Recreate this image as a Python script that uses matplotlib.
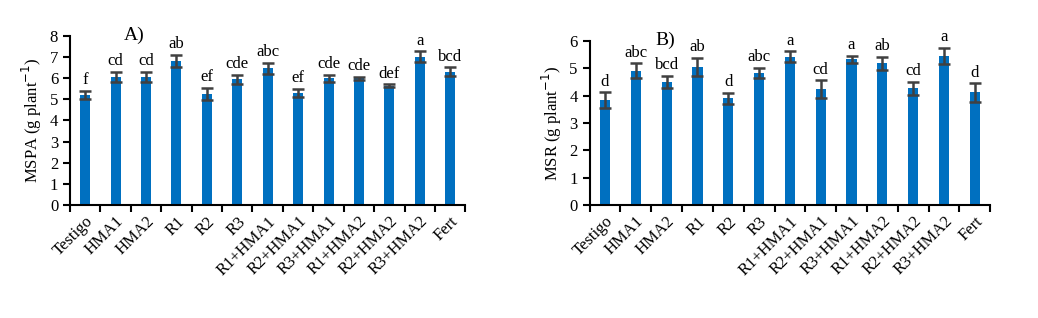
import matplotlib
matplotlib.use("Agg")
import matplotlib.pyplot as plt
import numpy as np

plt.rcParams['font.family'] = ['Liberation Serif', 'DejaVu Serif']

categories = ["Testigo", "HMA1", "HMA2", "R1", "R2", "R3", "R1+HMA1", "R2+HMA1",
              "R3+HMA1", "R1+HMA2", "R2+HMA2", "R3+HMA2", "Fert"]

mspa = [5.2, 6.05, 6.05, 6.8, 5.24, 5.93, 6.45, 5.3, 5.98, 5.98, 5.63, 7.0, 6.3]
mspa_err = [0.2, 0.25, 0.25, 0.3, 0.3, 0.22, 0.27, 0.2, 0.17, 0.07, 0.07, 0.26, 0.2]
mspa_letters = ["f", "cd", "cd", "ab", "ef", "cde", "abc", "ef", "cde", "cde", "def", "a", "bcd"]

msr = [3.83, 4.9, 4.5, 5.05, 3.9, 4.83, 5.41, 4.23, 5.32, 5.17, 4.26, 5.45, 4.11]
msr_err = [0.28, 0.27, 0.22, 0.33, 0.2, 0.18, 0.2, 0.33, 0.13, 0.25, 0.24, 0.29, 0.33]
msr_letters = ["d", "abc", "bcd", "ab", "d", "abc", "a", "cd", "a", "ab", "cd", "a", "d"]

BLUE = "#0070C0"


def draw_panel(ax, vals, errs, letters, ylabel, ymax, tag, tag_x):
    x = np.arange(len(categories))
    ax.bar(x, vals, width=0.33, color=BLUE, zorder=2)
    ax.errorbar(x, vals, yerr=errs, fmt='none', ecolor='#404040',
                elinewidth=1.8, capsize=4, capthick=1.8, zorder=3)
    for xi, v, e, t in zip(x, vals, errs, letters):
        ax.text(xi, v + e + 0.12 * ymax / 8, t, ha='center', va='bottom', fontsize=12)
    ax.set_xlim(-0.5, len(categories) - 0.5)
    ax.set_ylim(0, ymax)
    ax.set_yticks(range(0, ymax + 1))
    ax.set_xticks(x)
    ax.set_xticklabels(categories, rotation=45, ha='right', rotation_mode='anchor', fontsize=12)
    ax.set_xticks(np.arange(-0.5, len(categories)), minor=True)
    ax.tick_params(axis='x', which='major', length=0, pad=6)
    ax.tick_params(axis='x', which='minor', length=5, width=1.5, direction='out')
    ax.tick_params(axis='y', length=5, width=1.5, direction='out', labelsize=12)
    for s in ['top', 'right']:
        ax.spines[s].set_visible(False)
    ax.spines['left'].set_linewidth(1.5)
    ax.spines['bottom'].set_linewidth(1.5)
    ax.set_ylabel(ylabel, fontsize=12)
    ax.text(tag_x, 1.0, tag, transform=ax.transAxes, fontsize=14, ha='left', va='center')


fig = plt.figure(figsize=(10.38, 3.18), dpi=100)
ax1 = fig.add_axes([0.0674, 0.355, 0.381, 0.533])
ax2 = fig.add_axes([0.568, 0.355, 0.386, 0.517])

draw_panel(ax1, mspa, mspa_err, mspa_letters, "MSPA (g plant$^{-1}$)", 8, "A)", 0.135)
draw_panel(ax2, msr, msr_err, msr_letters, "MSR (g plant$^{-1}$)", 6, "B)", 0.165)

fig.savefig("out.png", dpi=100)
